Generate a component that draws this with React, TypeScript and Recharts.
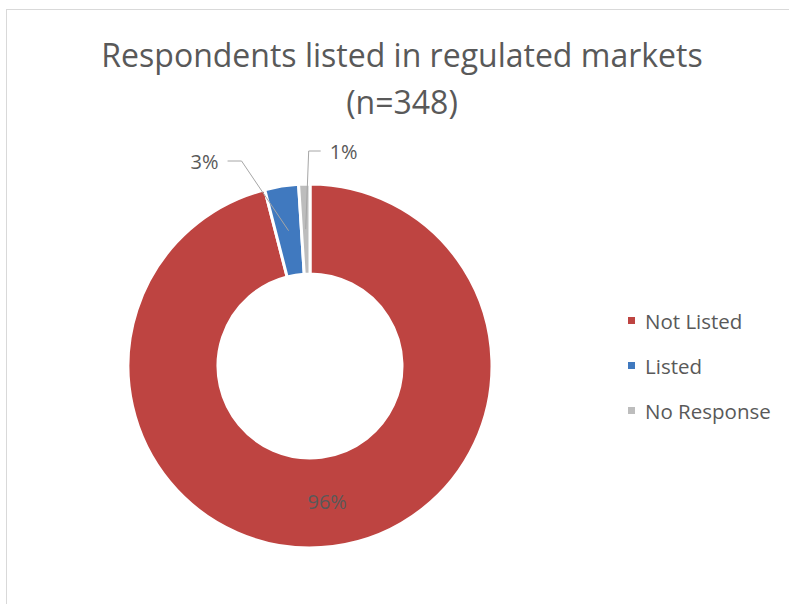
import React from "react";
import { PieChart, Pie, Cell, Legend } from "recharts";

// ── Data ──────────────────────────────────────────────────────────────────────

const categories = ["Not Listed", "Listed", "No Response"];
const shares = [96, 3, 1];
const colors = ["#BE4441", "#4079BF", "#BDBDBD"];

const TITLE = "Respondents listed in regulated markets";
const SUBTITLE = "(n=348)";

const data = categories.map((name, i) => ({ name, value: shares[i] }));

// ── Styles ────────────────────────────────────────────────────────────────────

const TEXT = "#595959";
const FONT = "'Open Sans', 'Noto Sans', sans-serif";
const RAD = Math.PI / 180;

// leader-line layout for the small slices (index → elbow offset / rise / side)
const leader: Record<number, { dx: number; rise: number; side: 1 | -1; run: number }> = {
  1: { dx: -47, rise: 23, side: -1, run: 14 },
  2: { dx: 3, rise: 33, side: 1, run: 12 },
};

function SliceLabel(props: any) {
  const { cx, cy, midAngle, innerRadius, outerRadius, percent, index } = props;
  const r = (innerRadius + outerRadius) / 2;
  const x = cx + r * Math.cos(-midAngle * RAD);
  const y = cy + r * Math.sin(-midAngle * RAD);
  const text = `${Math.round(percent * 100)}%`;

  const cfg = leader[index];
  if (!cfg) {
    return (
      <text x={x} y={y} fill={TEXT} fontSize={20} fontFamily={FONT} textAnchor="middle" dominantBaseline="central">
        {text}
      </text>
    );
  }

  const ex = x + cfg.dx;
  const ey = cy - outerRadius - cfg.rise;
  const hx = ex + cfg.side * cfg.run;
  return (
    <g>
      <polyline points={`${x},${y} ${ex},${ey} ${hx},${ey}`} fill="none" stroke="#A6A6A6" strokeWidth={1} />
      <text
        x={hx + cfg.side * 9}
        y={ey}
        fill={TEXT}
        fontSize={20}
        fontFamily={FONT}
        textAnchor={cfg.side < 0 ? "end" : "start"}
        dominantBaseline="central"
      >
        {text}
      </text>
    </g>
  );
}

// legend drawn in data order (Recharts 3 sorts its payload by name otherwise)
function LegendBox() {
  return (
    <div style={{ fontFamily: FONT, fontSize: 20.5, color: TEXT }}>
      {categories.map((name, i) => (
        <div key={name} style={{ display: "flex", alignItems: "center", height: 45 }}>
          <span style={{ width: 7, height: 7, background: colors[i], marginRight: 10, flexShrink: 0 }} />
          <span>{name}</span>
        </div>
      ))}
    </div>
  );
}

export default function App() {
  return (
    <div style={{ position: "absolute", left: 0, top: 0, width: 789, height: 604, background: "#fff", overflow: "hidden" }}>
      <div
        style={{
          position: "absolute",
          left: 6,
          top: 9,
          width: 800,
          height: 620,
          borderLeft: "1px solid #D9D9D9",
          borderTop: "1px solid #D9D9D9",
        }}
      />
      <div
        style={{
          position: "absolute",
          left: 0,
          top: 31,
          width: 804,
          textAlign: "center",
          fontFamily: FONT,
          fontSize: 32,
          lineHeight: "47px",
          color: TEXT,
        }}
      >
        <div>{TITLE}</div>
        <div>{SUBTITLE}</div>
      </div>
      <div style={{ position: "absolute", left: 0, top: 0 }}>
        <PieChart width={789} height={604} margin={{ top: 0, right: 0, bottom: 0, left: 0 }}>
          <Pie
            data={data}
            dataKey="value"
            nameKey="name"
            cx={310}
            cy={366}
            innerRadius={92}
            outerRadius={182}
            startAngle={90}
            endAngle={-270}
            stroke="#fff"
            strokeWidth={3}
            label={SliceLabel}
            labelLine={false}
            isAnimationActive={false}
          >
            {data.map((d, i) => (
              <Cell key={d.name} fill={colors[i]} />
            ))}
          </Pie>
          <Legend
            content={<LegendBox />}
            wrapperStyle={{ position: "absolute", left: 628, top: 298, width: 160 }}
          />
        </PieChart>
      </div>
    </div>
  );
}
